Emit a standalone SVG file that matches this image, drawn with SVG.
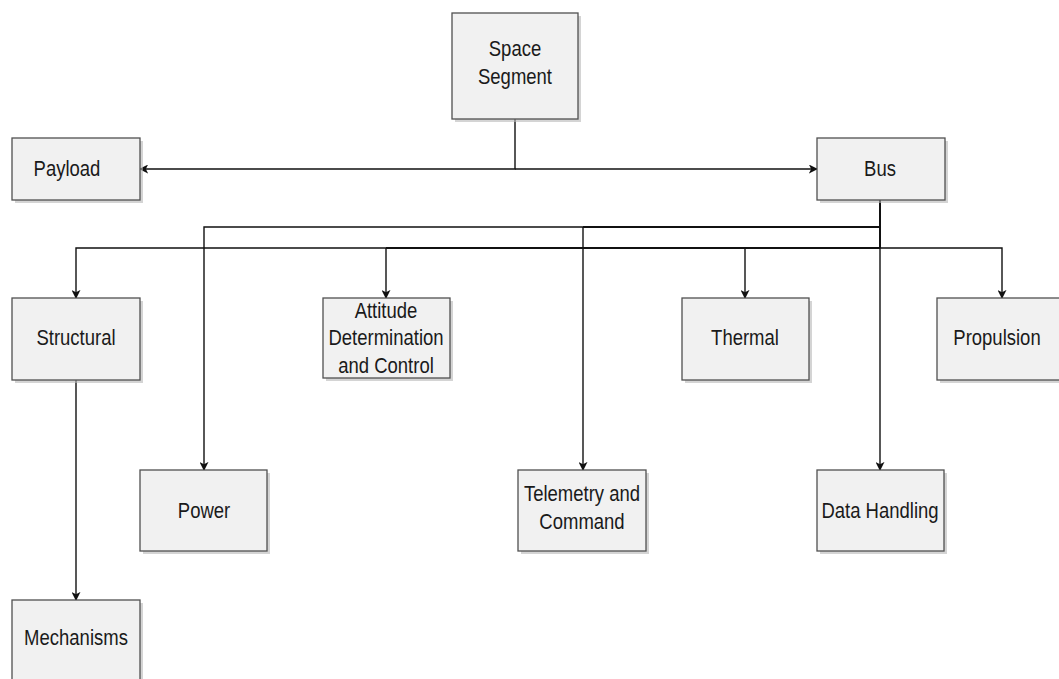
<svg xmlns="http://www.w3.org/2000/svg" width="1059" height="679" viewBox="0 0 1059 679">
<style>
.box{fill:#f1f1f1;stroke:#505050;stroke-width:1.3}
.shadow{fill:#b8b8b8;opacity:0.6}
.lbl{font-family:"Liberation Sans",Arial,sans-serif;font-size:18.5px;fill:#1a1a1a;text-anchor:middle}
.conn{fill:none;stroke:#111;stroke-width:1.4}
.thick{stroke-width:2}
</style>
<defs>
<marker id="arr" viewBox="0 0 10 10" refX="9" refY="5" markerWidth="9" markerHeight="9" markerUnits="userSpaceOnUse" orient="auto">
<path d="M0,0 L10,5 L0,10 L2.5,5 Z" fill="#111"/>
</marker>
</defs>
<rect width="1059" height="679" fill="#ffffff"/>
<g id="connectors">
<path class="conn" d="M515,119 V169 H140" marker-end="url(#arr)"/>
<path class="conn" d="M515,169 H817" marker-end="url(#arr)"/>
<path class="conn thick" d="M880,200 V248"/>
<path class="conn" d="M880,227 H204 V470" marker-end="url(#arr)"/>
<path class="conn" d="M583,227 V470" marker-end="url(#arr)"/>
<path class="conn thick" d="M880,227 H583"/>
<path class="conn" d="M880,248 H76 V298" marker-end="url(#arr)"/>
<path class="conn thick" d="M880,248 H386"/>
<path class="conn" d="M386,248 V298" marker-end="url(#arr)"/>
<path class="conn" d="M745,248 V298" marker-end="url(#arr)"/>
<path class="conn" d="M880,248 H1002 V298" marker-end="url(#arr)"/>
<path class="conn" d="M880,248 V470" marker-end="url(#arr)"/>
<path class="conn" d="M76,380 V600" marker-end="url(#arr)"/>
</g>
<g id="space-segment">
<rect class="shadow" x="455" y="16" width="126" height="106"/>
<rect class="box" x="452" y="13" width="126" height="106"/>
<text class="lbl" transform="translate(515,66) scale(1,1.2)"><tspan x="0" y="-8">Space</tspan><tspan x="0" y="15">Segment</tspan></text>
</g>
<g id="payload">
<rect class="shadow" x="15" y="141" width="128" height="62"/>
<rect class="box" x="12" y="138" width="128" height="62"/>
<text class="lbl" transform="translate(67,176) scale(1,1.2)">Payload</text>
</g>
<g id="bus">
<rect class="shadow" x="820" y="141" width="128" height="62"/>
<rect class="box" x="817" y="138" width="128" height="62"/>
<text class="lbl" transform="translate(880,176) scale(1,1.2)">Bus</text>
</g>
<g id="structural">
<rect class="shadow" x="15" y="301" width="128" height="82"/>
<rect class="box" x="12" y="298" width="128" height="82"/>
<text class="lbl" transform="translate(76,345) scale(1,1.2)">Structural</text>
</g>
<g id="attitude">
<rect class="shadow" x="326" y="301" width="127" height="80"/>
<rect class="box" x="323" y="298" width="127" height="80"/>
<text class="lbl" transform="translate(386,338) scale(1,1.2)"><tspan x="0" y="-17">Attitude</tspan><tspan x="0" y="6">Determination</tspan><tspan x="0" y="29">and Control</tspan></text>
</g>
<g id="thermal">
<rect class="shadow" x="685" y="301" width="127" height="82"/>
<rect class="box" x="682" y="298" width="127" height="82"/>
<text class="lbl" transform="translate(745,345) scale(1,1.2)">Thermal</text>
</g>
<g id="propulsion">
<rect class="shadow" x="940" y="301" width="127" height="82"/>
<rect class="box" x="937" y="298" width="127" height="82"/>
<text class="lbl" transform="translate(997,345) scale(1,1.2)">Propulsion</text>
</g>
<g id="power">
<rect class="shadow" x="143" y="473" width="127" height="81"/>
<rect class="box" x="140" y="470" width="127" height="81"/>
<text class="lbl" transform="translate(204,518) scale(1,1.2)">Power</text>
</g>
<g id="telemetry">
<rect class="shadow" x="521" y="473" width="128" height="81"/>
<rect class="box" x="518" y="470" width="128" height="81"/>
<text class="lbl" transform="translate(582,511) scale(1,1.2)"><tspan x="0" y="-8">Telemetry and</tspan><tspan x="0" y="15">Command</tspan></text>
</g>
<g id="data-handling">
<rect class="shadow" x="820" y="473" width="127" height="81"/>
<rect class="box" x="817" y="470" width="127" height="81"/>
<text class="lbl" transform="translate(880,518) scale(1,1.2)">Data Handling</text>
</g>
<g id="mechanisms">
<rect class="shadow" x="15" y="603" width="128" height="82"/>
<rect class="box" x="12" y="600" width="128" height="82"/>
<text class="lbl" transform="translate(76,645) scale(1,1.2)">Mechanisms</text>
</g>
</svg>
